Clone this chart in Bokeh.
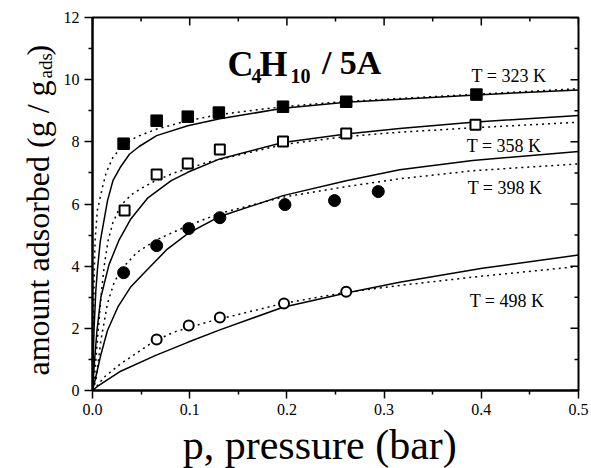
from math import pi
from bokeh.plotting import figure
from bokeh.layouts import row
from bokeh.models import FixedTicker, PrintfTickFormatter, Label, Range1d
from bokeh.embed import file_html
from bokeh.resources import INLINE

# ---- measured data (p in bar, q in g/g_ads) ----
p323 = [0.032, 0.066, 0.098, 0.130, 0.196, 0.261, 0.395]
q323 = [7.94, 8.68, 8.81, 8.94, 9.13, 9.29, 9.52]
p358 = [0.033, 0.066, 0.098, 0.131, 0.196, 0.261, 0.394]
q358 = [5.79, 6.95, 7.30, 7.75, 8.01, 8.27, 8.55]
p398 = [0.032, 0.066, 0.099, 0.131, 0.198, 0.249, 0.294]
q398 = [3.79, 4.66, 5.21, 5.56, 5.98, 6.11, 6.40]
p498 = [0.066, 0.099, 0.131, 0.197, 0.261]
q498 = [1.64, 2.09, 2.35, 2.80, 3.18]

# ---- model curves (solid and dotted) ----
s323_p = [0, 0.0015, 0.0034, 0.0051, 0.008, 0.0154, 0.021, 0.029, 0.038, 0.048, 0.066, 0.098, 0.131, 0.196, 0.261, 0.395, 0.5]
s323_q = [0, 1.9, 3.2, 3.9, 4.8, 6.1, 6.75, 7.2, 7.6, 7.85, 8.2, 8.52, 8.74, 9.08, 9.27, 9.51, 9.67]
d323_p = [0, 0.001, 0.0017, 0.0026, 0.005, 0.0103, 0.014, 0.021, 0.0326, 0.046, 0.066, 0.098, 0.131, 0.196, 0.261, 0.395, 0.5]
d323_q = [0, 1.8, 3.6, 4.8, 5.8, 6.54, 7.0, 7.5, 7.93, 8.17, 8.41, 8.68, 8.88, 9.13, 9.30, 9.53, 9.71]

s358_p = [0, 0.002, 0.0045, 0.0086, 0.017, 0.027, 0.039, 0.057, 0.081, 0.098, 0.131, 0.196, 0.261, 0.316, 0.391, 0.5]
s358_q = [0, 0.9, 1.9, 3.0, 4.05, 4.82, 5.5, 6.2, 6.75, 7.02, 7.45, 7.98, 8.25, 8.43, 8.63, 8.85]
d358_p = [0, 0.002, 0.005, 0.009, 0.012, 0.016, 0.021, 0.029, 0.04, 0.05, 0.063, 0.084, 0.118, 0.196, 0.261, 0.316, 0.391, 0.5]
d358_q = [0, 0.4, 1.6, 3.1, 4.0, 4.82, 5.4, 5.95, 6.3, 6.5, 6.72, 7.0, 7.34, 7.91, 8.17, 8.31, 8.45, 8.63]

s398_p = [0, 0.0017, 0.0086, 0.0154, 0.026, 0.039, 0.057, 0.077, 0.098, 0.131, 0.196, 0.261, 0.316, 0.391, 0.5]
s398_q = [0, 0.21, 1.15, 1.93, 2.68, 3.32, 3.91, 4.55, 5.05, 5.6, 6.27, 6.75, 7.1, 7.4, 7.69]
d398_p = [0, 0.0034, 0.0086, 0.0154, 0.022, 0.029, 0.046, 0.066, 0.098, 0.131, 0.196, 0.261, 0.316, 0.391, 0.5]
d398_q = [0, 0.3, 1.6, 2.8, 3.45, 3.88, 4.45, 4.85, 5.3, 5.7, 6.22, 6.56, 6.81, 7.07, 7.29]

s498_p = [0, 0.005, 0.029, 0.065, 0.098, 0.131, 0.196, 0.261, 0.316, 0.401, 0.5]
s498_q = [0, 0.13, 0.62, 1.13, 1.55, 1.95, 2.68, 3.14, 3.48, 3.93, 4.36]
d498_p = [0, 0.005, 0.012, 0.029, 0.039, 0.063, 0.084, 0.118, 0.196, 0.261, 0.316, 0.401, 0.5]
d498_q = [0, 0.16, 0.43, 0.86, 1.07, 1.58, 1.88, 2.2, 2.8, 3.16, 3.38, 3.68, 3.99]

# ---- ticks and labels ----
x_major = [0.0, 0.1, 0.2, 0.3, 0.4, 0.5]
x_minor = [0.05, 0.15, 0.25, 0.35, 0.45]
y_major = [0, 2, 4, 6, 8, 10, 12]
y_minor = [1, 3, 5, 7, 9, 11]
temps = ["T = 323 K", "T = 358 K", "T = 398 K", "T = 498 K"]
x_title = "p, pressure (bar)"
y_title = ["amount adsorbed (g / g", "ads", ")"]

FONT = "Liberation Serif"

# ---------------- main plot ----------------
p = figure(frame_width=486, frame_height=373,
           x_range=Range1d(0, 0.5), y_range=Range1d(0, 12),
           output_backend="svg", toolbar_location=None,
           min_border_left=30, min_border_right=12, min_border_top=17, min_border_bottom=78)
p.outline_line_color = "black"
p.outline_line_width = 2
p.grid.visible = False
p.background_fill_color = "white"
p.border_fill_color = "white"

xa = p.xaxis[0]
xa.ticker = FixedTicker(ticks=x_major, minor_ticks=x_minor)
xa.formatter = PrintfTickFormatter(format="%.1f")
ya = p.yaxis[0]
ya.ticker = FixedTicker(ticks=y_major, minor_ticks=y_minor)
ya.formatter = PrintfTickFormatter(format="%d")

for ax in (xa, ya):
    ax.axis_line_width = 2
    ax.major_tick_line_width = 1.5
    ax.minor_tick_line_width = 1.5
    ax.major_tick_in = 0
    ax.major_tick_out = 8
    ax.minor_tick_in = 0
    ax.minor_tick_out = 4
    ax.major_label_text_font = FONT
    ax.major_label_text_font_size = "16px"
    ax.major_label_text_color = "black"
    ax.major_label_standoff = 5

# trailing no-break spaces shift the centred title a little to the left, as in the reference
xa.axis_label = x_title + "\u00a0\u00a0\u00a0"
xa.axis_label_text_font = FONT
xa.axis_label_text_font_size = "42px"
xa.axis_label_text_font_style = "normal"
xa.axis_label_text_color = "black"
xa.axis_label_standoff = 4

# inward ticks on top and right edges (half of each dash is clipped by the frame)
p.scatter(x_major, [12] * len(x_major), marker="dash", angle=pi / 2, size=16, line_color="black", line_width=1.5)
p.scatter(x_minor, [12] * len(x_minor), marker="dash", angle=pi / 2, size=8, line_color="black", line_width=1.5)
p.scatter([0.5] * len(y_major), y_major, marker="dash", size=16, line_color="black", line_width=1.5)
p.scatter([0.5] * len(y_minor), y_minor, marker="dash", size=8, line_color="black", line_width=1.5)

# model curves
for xs, ys in ((s323_p, s323_q), (s358_p, s358_q), (s398_p, s398_q), (s498_p, s498_q)):
    p.line(xs, ys, line_color="black", line_width=1.5)
for xs, ys in ((d323_p, d323_q), (d358_p, d358_q), (d398_p, d398_q), (d498_p, d498_q)):
    p.line(xs, ys, line_color="black", line_width=1.5, line_dash="2 4")

# data points
p.scatter(p323, q323, marker="square", size=11.5, fill_color="black", line_color="black", line_width=1)
p.scatter(p358, q358, marker="square", size=10, fill_color="white", line_color="black", line_width=2)
p.scatter(p398, q398, marker="circle", size=12, fill_color="black", line_color="black", line_width=1)
p.scatter(p498, q498, marker="circle", size=10, fill_color="white", line_color="black", line_width=2)


def lab(fig, x, y, t, size, bold=False, angle=0.0):
    fig.add_layout(Label(x=x, y=y, text=t, text_font=FONT, text_font_size=size,
                         text_font_style="bold" if bold else "normal", text_color="black",
                         text_align="left", text_baseline="alphabetic", angle=angle))


# title pieces
lab(p, 0.139, 10.51, "C", "36px", True)
lab(p, 0.1636, 10.13, "4", "20px", True)
lab(p, 0.1718, 10.51, "H", "36px", True)
lab(p, 0.2037, 10.13, "10", "20px", True)
lab(p, 0.236, 10.55, "/ 5A", "34px", True)

# temperature labels
lab(p, 0.390, 10.13, temps[0], "18px")
lab(p, 0.385, 7.88, temps[1], "18px")
lab(p, 0.386, 6.50, temps[2], "18px")
lab(p, 0.388, 2.89, temps[3], "18px")

# ---------------- y-axis title strip (pixel coordinates) ----------------
lf = figure(frame_width=60, frame_height=468, x_range=Range1d(0, 60), y_range=Range1d(0, 468),
            x_axis_location=None, y_axis_location=None, min_border=0, title=None,
            output_backend="svg", toolbar_location=None)
lf.outline_line_color = None
lf.grid.visible = False
lf.background_fill_color = "white"
lf.border_fill_color = "white"
lab(lf, 37, 110, y_title[0], "32px", angle=pi / 2)
lab(lf, 45, 407, y_title[1], "19px", angle=pi / 2)
lab(lf, 37, 430, y_title[2], "32px", angle=pi / 2)

layout = row(lf, p, spacing=0)
open("out.html", "w").write(file_html(layout, INLINE))
